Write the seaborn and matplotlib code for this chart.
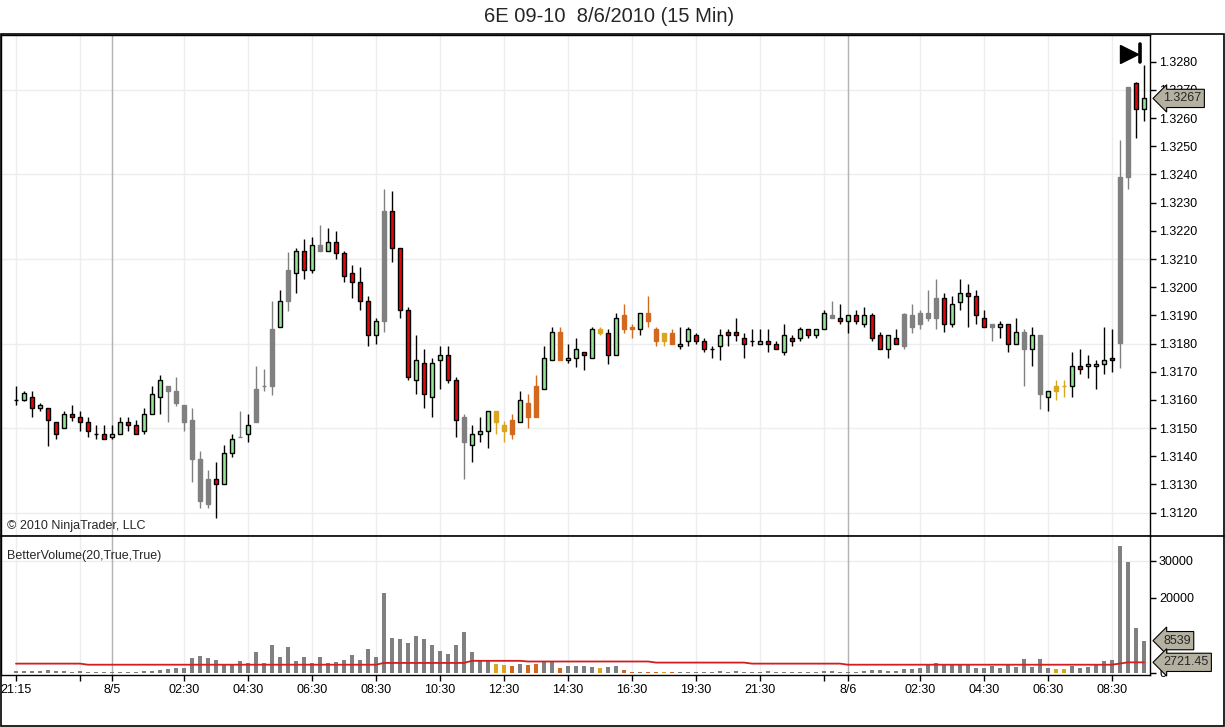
import numpy as np
import pandas as pd
import matplotlib
matplotlib.use("Agg")
import matplotlib.pyplot as plt
import matplotlib.transforms as mtransforms
from matplotlib.patches import Rectangle
from matplotlib.lines import Line2D
import seaborn as sns

# 6E 09-10, 15 min bars from 8/4 21:15 to 8/6 09:30
opens = [1.31599, 1.31599, 1.31611, 1.31570, 1.31571, 1.31521, 1.31500, 1.31550, 1.31540, 1.31521,
         1.31479, 1.31479, 1.31470, 1.31479, 1.31521, 1.31511, 1.31488, 1.31550, 1.31609, 1.31650,
         1.31633, 1.31582, 1.31530, 1.31390, 1.31319, 1.31319, 1.31301, 1.31411, 1.31470, 1.31479,
         1.31520, 1.31648, 1.31648, 1.31857, 1.31950, 1.32049, 1.32130, 1.32061, 1.32127, 1.32127,
         1.32162, 1.32121, 1.32050, 1.32017, 1.31950, 1.31830, 1.31879, 1.32272, 1.32139, 1.31919,
         1.31670, 1.31731, 1.31609, 1.31741, 1.31759, 1.31670, 1.31538, 1.31440, 1.31479, 1.31491,
         1.31562, 1.31512, 1.31479, 1.31520, 1.31538, 1.31538, 1.31638, 1.31741, 1.31840, 1.31741,
         1.31749, 1.31769, 1.31748, 1.31851, 1.31839, 1.31759, 1.31902, 1.31859, 1.31851, 1.31908,
         1.31851, 1.31839, 1.31839, 1.31791, 1.31809, 1.31831, 1.31809, 1.31780, 1.31791, 1.31841,
         1.31841, 1.31819, 1.31809, 1.31800, 1.31809, 1.31800, 1.31770, 1.31819, 1.31819, 1.31851,
         1.31831, 1.31851, 1.31890, 1.31890, 1.31880, 1.31902, 1.31869, 1.31902, 1.31831, 1.31780,
         1.31819, 1.31791, 1.31859, 1.31869, 1.31890, 1.31890, 1.31961, 1.31869, 1.31949, 1.31979,
         1.31969, 1.31890, 1.31869, 1.31859, 1.31869, 1.31798, 1.31841, 1.31780, 1.31831, 1.31611,
         1.31630, 1.31650, 1.31650, 1.31721, 1.31721, 1.31721, 1.31729, 1.31748, 1.31801, 1.32392,
         1.32723, 1.32632]
highs = [1.31650, 1.31633, 1.31633, 1.31589, 1.31571, 1.31521, 1.31562, 1.31582, 1.31562, 1.31540,
         1.31512, 1.31512, 1.31512, 1.31540, 1.31540, 1.31528, 1.31571, 1.31650, 1.31689, 1.31650,
         1.31682, 1.31582, 1.31571, 1.31420, 1.31351, 1.31380, 1.31441, 1.31479, 1.31562, 1.31550,
         1.31721, 1.31709, 1.31952, 1.31991, 1.32124, 1.32139, 1.32171, 1.32179, 1.32222, 1.32210,
         1.32201, 1.32130, 1.32079, 1.32073, 1.31970, 1.31889, 1.32349, 1.32343, 1.32139, 1.31928,
         1.31830, 1.31780, 1.31749, 1.31790, 1.31790, 1.31680, 1.31550, 1.31512, 1.31540, 1.31562,
         1.31562, 1.31524, 1.31550, 1.31633, 1.31621, 1.31689, 1.31790, 1.31860, 1.31860, 1.31798,
         1.31820, 1.31769, 1.31857, 1.31859, 1.31851, 1.31908, 1.31940, 1.31869, 1.31908, 1.31969,
         1.31859, 1.31839, 1.31851, 1.31859, 1.31859, 1.31839, 1.31819, 1.31791, 1.31851, 1.31851,
         1.31890, 1.31839, 1.31851, 1.31851, 1.31851, 1.31809, 1.31869, 1.31831, 1.31859, 1.31851,
         1.31851, 1.31918, 1.31951, 1.31940, 1.31902, 1.31918, 1.31930, 1.31908, 1.31841, 1.31831,
         1.31851, 1.31910, 1.31940, 1.31918, 1.31989, 1.32028, 1.31978, 1.31969, 1.32028, 1.32011,
         1.31989, 1.31918, 1.31869, 1.31880, 1.31869, 1.31890, 1.31851, 1.31859, 1.31831, 1.31630,
         1.31671, 1.31671, 1.31770, 1.31780, 1.31759, 1.31741, 1.31859, 1.31851, 1.32522, 1.32711,
         1.32729, 1.32788]
lows = [1.31582, 1.31597, 1.31538, 1.31559, 1.31437, 1.31461, 1.31500, 1.31526, 1.31488, 1.31469,
        1.31461, 1.31461, 1.31461, 1.31479, 1.31488, 1.31479, 1.31479, 1.31550, 1.31550, 1.31520,
        1.31579, 1.31488, 1.31307, 1.31218, 1.31218, 1.31180, 1.31301, 1.31399, 1.31470, 1.31449,
        1.31520, 1.31633, 1.31618, 1.31857, 1.31917, 1.31978, 1.32029, 1.32049, 1.32127, 1.32127,
        1.32100, 1.32017, 1.31960, 1.31919, 1.31790, 1.31798, 1.31840, 1.32091, 1.31889, 1.31670,
        1.31621, 1.31570, 1.31538, 1.31638, 1.31660, 1.31470, 1.31319, 1.31378, 1.31449, 1.31429,
        1.31479, 1.31449, 1.31461, 1.31520, 1.31500, 1.31538, 1.31638, 1.31741, 1.31741, 1.31730,
        1.31718, 1.31707, 1.31748, 1.31831, 1.31729, 1.31759, 1.31839, 1.31819, 1.31831, 1.31859,
        1.31791, 1.31791, 1.31800, 1.31780, 1.31791, 1.31800, 1.31770, 1.31748, 1.31741, 1.31791,
        1.31809, 1.31748, 1.31791, 1.31800, 1.31770, 1.31780, 1.31759, 1.31791, 1.31809, 1.31819,
        1.31819, 1.31851, 1.31890, 1.31869, 1.31839, 1.31869, 1.31859, 1.31809, 1.31780, 1.31748,
        1.31798, 1.31780, 1.31839, 1.31851, 1.31880, 1.31851, 1.31841, 1.31859, 1.31918, 1.31859,
        1.31869, 1.31859, 1.31809, 1.31819, 1.31770, 1.31798, 1.31650, 1.31721, 1.31569, 1.31561,
        1.31599, 1.31611, 1.31611, 1.31691, 1.31679, 1.31638, 1.31691, 1.31699, 1.31712, 1.32348,
        1.32530, 1.32589]
closes = [1.31599, 1.31623, 1.31571, 1.31582, 1.31528, 1.31479, 1.31550, 1.31538, 1.31520, 1.31488,
          1.31479, 1.31461, 1.31479, 1.31521, 1.31511, 1.31479, 1.31550, 1.31621, 1.31670, 1.31633,
          1.31589, 1.31520, 1.31390, 1.31240, 1.31230, 1.31301, 1.31411, 1.31461, 1.31470, 1.31511,
          1.31638, 1.31648, 1.31851, 1.31952, 1.32062, 1.32129, 1.32061, 1.32151, 1.32151, 1.32162,
          1.32121, 1.32038, 1.32017, 1.31950, 1.31830, 1.31879, 1.32272, 1.32138, 1.31919, 1.31680,
          1.31741, 1.31621, 1.31731, 1.31759, 1.31670, 1.31528, 1.31449, 1.31479, 1.31491, 1.31562,
          1.31520, 1.31488, 1.31530, 1.31599, 1.31589, 1.31650, 1.31749, 1.31840, 1.31741, 1.31749,
          1.31780, 1.31759, 1.31851, 1.31839, 1.31759, 1.31890, 1.31851, 1.31851, 1.31908, 1.31880,
          1.31809, 1.31809, 1.31800, 1.31800, 1.31851, 1.31809, 1.31780, 1.31780, 1.31831, 1.31831,
          1.31831, 1.31800, 1.31809, 1.31809, 1.31800, 1.31780, 1.31831, 1.31809, 1.31851, 1.31831,
          1.31851, 1.31908, 1.31902, 1.31880, 1.31902, 1.31880, 1.31902, 1.31819, 1.31780, 1.31831,
          1.31798, 1.31904, 1.31902, 1.31910, 1.31910, 1.31961, 1.31869, 1.31940, 1.31979, 1.31969,
          1.31902, 1.31859, 1.31859, 1.31869, 1.31798, 1.31841, 1.31780, 1.31831, 1.31620, 1.31630,
          1.31650, 1.31650, 1.31721, 1.31709, 1.31729, 1.31729, 1.31741, 1.31741, 1.32392, 1.32711,
          1.32632, 1.32670]
# paint-bar colouring of each candle (BetterVolume)
kinds = ["doji", "up", "down", "up", "down", "down", "up", "down", "down", "down",
         "doji", "down", "up", "up", "down", "down", "up", "up", "up", "grey",
         "grey", "grey", "grey", "grey", "grey", "down", "up", "up", "grey", "up",
         "grey", "grey", "grey", "up", "grey", "up", "down", "up", "grey", "up",
         "down", "down", "down", "down", "down", "up", "grey", "down", "down", "down",
         "up", "down", "up", "up", "down", "down", "grey", "up", "up", "up",
         "gold", "gold", "orange", "up", "orange", "orange", "up", "up", "orange", "up",
         "up", "down", "up", "gold", "down", "up", "orange", "orange", "up", "orange",
         "orange", "gold", "orange", "up", "up", "down", "down", "doji", "up", "down",
         "down", "down", "doji", "up", "down", "down", "up", "down", "up", "down",
         "up", "up", "grey", "down", "up", "down", "up", "down", "down", "up",
         "down", "grey", "grey", "grey", "grey", "grey", "down", "up", "up", "down",
         "down", "down", "grey", "up", "down", "up", "grey", "up", "grey", "up",
         "gold", "gold", "up", "down", "up", "up", "up", "down", "grey", "grey",
         "down", "up"]
volume = [300, 300, 300, 300, 650, 380, 300, 250, 380, 250,
          250, 250, 250, 250, 250, 250, 300, 480, 670, 1050,
          1330, 1330, 3900, 4450, 3900, 3280, 2050, 2050, 2980, 2470,
          5550, 2470, 7500, 4150, 6950, 2950, 4150, 2470, 4150, 2420,
          2700, 3300, 4750, 3300, 6400, 4150, 21200, 9380, 9100, 7800,
          9660, 8920, 7260, 5850, 5050, 7500, 10760, 5550, 3140, 3140,
          2190, 1900, 1620, 2280, 2000, 2190, 2860, 2860, 1140, 1620,
          1620, 1810, 1430, 1140, 1430, 1810, 760, 250, 250, 250,
          250, 250, 250, 250, 250, 250, 250, 250, 480, 250,
          300, 250, 250, 250, 300, 250, 250, 250, 250, 250,
          250, 380, 380, 250, 250, 250, 360, 540, 540, 360,
          360, 890, 980, 1250, 2230, 2590, 2050, 1880, 2230, 2230,
          1250, 1250, 1700, 1250, 2050, 1520, 3750, 1520, 3750, 1250,
          890, 890, 1700, 1250, 1520, 1880, 3130, 3390, 33930, 29740,
          12060, 8539]
# average volume line, read at its break points
avg_bar = [0, 8, 9, 45, 46, 56, 57, 63, 64, 79, 80, 91, 92, 103, 104, 137, 139, 141]
avg_vol = [2380, 2380, 2090, 2090, 2570, 2570, 3130, 3130, 2950, 2950,
           2660, 2660, 2380, 2380, 2090, 2090, 2721, 2721.45]

tick_bars = [0, 8, 12, 21, 29, 37, 45, 53, 61, 69, 77, 85, 93, 101, 104, 113, 121, 129, 137]
tick_labels = ["21:15", "", "8/5", "02:30", "04:30", "06:30", "08:30", "10:30", "12:30", "14:30",
               "16:30", "19:30", "21:30", "", "8/6", "02:30", "04:30", "06:30", "08:30"]
date_bars = [12, 104]
price_ticks = [1.3120, 1.3130, 1.3140, 1.3150, 1.3160, 1.3170, 1.3180, 1.3190, 1.3200,
               1.3210, 1.3220, 1.3230, 1.3240, 1.3250, 1.3260, 1.3270, 1.3280]
price_grid = [1.3120, 1.3150, 1.3180, 1.3210, 1.3240, 1.3270]
last_price = 1.3267
last_volume = 8539
last_avg = 2721.45

colors = {"up": "#98e598", "down": "#dc0a0a", "doji": "black",
          "grey": "#808080", "orange": "#d2691e", "gold": "#daa520"}

sns.set_theme(style="white")
plt.rcParams['font.family'] = ['Liberation Sans', 'DejaVu Sans']

W, H = 1225, 727
fig = plt.figure(figsize=(W / 100, H / 100), dpi=100)
fig.patch.set_facecolor("white")
axp = fig.add_axes([1 / W, (H - 536) / H, 1149 / W, 501 / H])
axv = fig.add_axes([1 / W, (H - 675) / H, 1149 / W, 139 / H])

n = len(opens)
x = np.arange(n)
o = np.array(opens)
c = np.array(closes)

# grid
for ax in (axp, axv):
    ax.set_facecolor("white")
    for b in tick_bars:
        ax.axvline(b, color="#ededed", lw=1, zorder=0)
    for b in date_bars:
        ax.axvline(b, color="#b4b4b4", lw=1, zorder=0.5)
for p in price_grid:
    axp.axhline(p, color="#ededed", lw=1, zorder=0)
axv.axhline(30000, color="#ededed", lw=1, zorder=0)

# candles
face = [colors[k] for k in kinds]
edge = ["black" if k in ("up", "down", "doji") else colors[k] for k in kinds]
axp.vlines(x, lows, highs, colors=edge, lw=1, zorder=2)
axp.bar(x, np.abs(c - o), bottom=np.minimum(o, c), width=0.6, color=face,
        edgecolor=edge, linewidth=1, zorder=3)

axp.set_xlim(-1.875, 141.75)
axp.set_ylim(1.31117, 1.32895)
axp.yaxis.tick_right()
axp.set_yticks(price_ticks)
axp.set_yticklabels([f"{p:.4f}" for p in price_ticks])
axp.set_xticks([])
axp.tick_params(axis="y", direction="out", length=4.5, width=1, color="black",
                pad=2, labelsize=9, labelcolor="black", right=True)
for s in axp.spines.values():
    s.set_color("black")
    s.set_linewidth(1)

# volume
vol_df = pd.DataFrame({"bar": x, "volume": volume,
                       "kind": [k if k in ("orange", "gold") else "grey" for k in kinds]})
sns.barplot(data=vol_df, x="bar", y="volume", hue="kind", native_scale=True,
            palette={"grey": colors["grey"], "orange": colors["orange"], "gold": colors["gold"]},
            width=0.38, errorbar=None, saturation=1, linewidth=0, legend=False, ax=axv, zorder=3)
sns.lineplot(x=avg_bar, y=avg_vol, color="#d21e1e", lw=1.3, ax=axv, zorder=4)

axv.set_xlim(-1.875, 141.75)
axv.set_ylim(-670, 36600)
axv.set_xlabel("")
axv.set_ylabel("")
axv.yaxis.tick_right()
axv.set_yticks([0, 20000, 30000])
axv.set_yticklabels(["0", "20000", "30000"])
axv.set_xticks(tick_bars)
axv.set_xticklabels(tick_labels)
axv.tick_params(axis="both", direction="out", length=4.5, width=1, color="black",
                pad=2, labelsize=9, labelcolor="black")
axv.tick_params(axis="y", right=True)
axv.tick_params(axis="x", bottom=True)
axv.spines["top"].set_visible(False)
for s in ("left", "right", "bottom"):
    axv.spines[s].set_color("black")
    axv.spines[s].set_linewidth(1)

# last value markers
box = dict(boxstyle="larrow,pad=0.25", fc="#b5b1a1", ec="black", lw=0.8)
tp = mtransforms.offset_copy(mtransforms.blended_transform_factory(axp.transAxes, axp.transData),
                             fig=fig, x=13, y=0, units="dots")
axp.text(1.0, last_price, f"{last_price:.4f}", transform=tp, ha="left", va="center",
         fontsize=9, bbox=box, clip_on=False, zorder=10)
tv = mtransforms.offset_copy(mtransforms.blended_transform_factory(axv.transAxes, axv.transData),
                             fig=fig, x=13, y=0, units="dots")
axv.text(1.0, last_volume, f"{last_volume}", transform=tv, ha="left", va="center",
         fontsize=9, bbox=box, clip_on=False, zorder=10)
axv.text(1.0, last_avg, f"{last_avg:.2f}", transform=tv, ha="left", va="center",
         fontsize=9, bbox=box, clip_on=False, zorder=10)

# scroll-to-end icon
axp.plot([0.9817], [0.962], marker=">", ms=13.5, color="black", transform=axp.transAxes,
         clip_on=False, zorder=10)
axp.add_line(Line2D([0.9913, 0.9913], [0.946, 0.982], transform=axp.transAxes,
                    color="black", lw=2.6, zorder=10))

axp.text(6 / 1149, 10 / 501, "\u00a9 2010 NinjaTrader, LLC", transform=axp.transAxes,
         ha="left", va="center", fontsize=9)
axv.text(6 / 1149, 1 - 20 / 139, "BetterVolume(20,True,True)", transform=axv.transAxes,
         ha="left", va="center", fontsize=9)

fig.text(609 / W, 1 - 17 / H, "6E 09-10  8/6/2010 (15 Min)", ha="center", va="center",
         fontsize=14.5)

# outer frame and panel separator
fig.add_artist(Rectangle((1 / W, 1.5 / H), 1222.5 / W, 691.5 / H, transform=fig.transFigure,
                         fill=False, ec="black", lw=1.2))
fig.add_artist(Line2D([1 / W, 1224 / W], [(H - 536) / H, (H - 536) / H],
                      transform=fig.transFigure, color="black", lw=1.2))

fig.savefig("out.png", dpi=100)
